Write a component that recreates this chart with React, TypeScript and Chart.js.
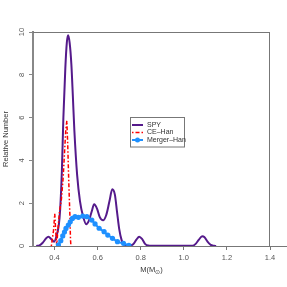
import React, { useEffect, useRef } from "react";
import { Chart, registerables } from "chart.js";

Chart.register(...registerables);

const SPY_X = [0.315,0.33,0.345,0.36,0.372,0.385,0.398,0.41,0.42,0.426,0.434,0.441,0.45,0.457,0.463,0.47,0.478,0.485,0.492,0.505,0.518,0.532,0.547,0.56,0.572,0.584,0.597,0.61,0.625,0.64,0.655,0.668,0.68,0.69,0.70,0.712,0.725,0.745,0.765,0.78,0.793,0.806,0.82,0.835,0.85,0.95,1.04,1.055,1.07,1.085,1.095,1.11,1.125,1.14,1.15];
const SPY_Y = [0,0.03,0.15,0.35,0.43,0.32,0.2,0.5,1.0,1.7,3.5,6.0,8.3,9.5,9.85,9.5,8.5,7.0,5.4,3.3,2.1,1.4,1.02,1.2,1.6,1.95,1.75,1.35,1.2,1.45,2.1,2.65,2.4,1.6,0.8,0.25,0.05,0.02,0.08,0.3,0.43,0.33,0.1,0.02,0.01,0.01,0.01,0.1,0.3,0.45,0.42,0.2,0.05,0.01,0];

const CE_X = [0.385,0.395,0.401,0.406,0.41,0.416,0.423,0.432,0.44,0.447,0.452,0.457,0.461,0.466,0.471,0.474,0.476];
const CE_Y = [0,0.7,1.5,0.6,0.05,0.8,1.6,2.2,3.2,4.5,5.4,5.85,4.8,3.0,1.5,0.3,0];

const MERGER_X = [0.418,0.429,0.438,0.446,0.453,0.464,0.473,0.483,0.495,0.511,0.531,0.550,0.573,0.588,0.607,0.630,0.647,0.669,0.692,0.720,0.745];
const MERGER_Y = [0.05,0.25,0.47,0.65,0.82,0.98,1.13,1.29,1.37,1.34,1.40,1.37,1.21,1.03,0.83,0.67,0.51,0.36,0.20,0.12,0.03];

const X_TICKS = [0.4, 0.6, 0.8, 1.0, 1.2, 1.4];
const Y_TICKS = [0, 2, 4, 6, 8, 10];
const SERIES_NAMES = ["SPY", "CE\u2013Han", "Merger\u2013Han"];
const X_TITLE = "M(M";
const Y_TITLE = "Relative Number";

const PURPLE = "#551A8B";
const RED = "#FF0000";
const BLUE = "#1E90FF";
const FONT = "'Liberation Sans', Arial, sans-serif";
const RED_DASH = [1.5, 2, 4, 2];

const zip = (xs: number[], ys: number[]) => xs.map((x, i) => ({ x, y: ys[i] }));

const decorPlugin = {
  id: "decor",
  afterDraw(chart: any) {
    const { ctx, chartArea, scales } = chart;
    const { left, right, top, bottom } = chartArea;
    ctx.save();
    // box lines
    ctx.strokeStyle = "#777";
    ctx.lineWidth = 1;
    ctx.beginPath();
    ctx.moveTo(left, top + 0.5);
    ctx.lineTo(right, top + 0.5);
    ctx.moveTo(right - 0.5, top);
    ctx.lineTo(right - 0.5, bottom);
    ctx.moveTo(right, bottom + 0.5);
    ctx.lineTo(287, bottom + 0.5);
    ctx.stroke();

    // y tick labels (rotated)
    ctx.fillStyle = "#555";
    ctx.font = `7.5px ${FONT}`;
    ctx.textAlign = "center";
    ctx.textBaseline = "middle";
    for (const v of Y_TICKS) {
      const y = scales.y.getPixelForValue(v);
      ctx.save();
      ctx.translate(22, y);
      ctx.rotate(-Math.PI / 2);
      ctx.fillText(String(v), 0, 0);
      ctx.restore();
    }
    // y title
    ctx.fillStyle = "#333";
    ctx.save();
    ctx.translate(6, (top + bottom) / 2);
    ctx.rotate(-Math.PI / 2);
    ctx.font = `7.5px ${FONT}`;
    ctx.fillText(Y_TITLE, 0, 0);
    ctx.restore();

    // x title with subscript sun
    ctx.font = `7.5px ${FONT}`;
    const w1 = ctx.measureText(X_TITLE).width;
    ctx.font = `5.5px ${FONT}`;
    const w2 = ctx.measureText("\u2299").width;
    ctx.font = `7.5px ${FONT}`;
    const w3 = ctx.measureText(")").width;
    const cx = (left + right) / 2;
    let x0 = cx - (w1 + w2 + w3) / 2;
    ctx.textAlign = "left";
    ctx.fillText(X_TITLE, x0, 270);
    ctx.font = `5.5px ${FONT}`;
    ctx.fillText("\u2299", x0 + w1, 272);
    ctx.font = `7.5px ${FONT}`;
    ctx.fillText(")", x0 + w1 + w2, 270);

    // legend
    const lx = 130.5, ly = 117.5, lw = 54, lh = 29.5;
    ctx.fillStyle = "#fff";
    ctx.fillRect(lx, ly, lw, lh);
    ctx.strokeStyle = "#777";
    ctx.lineWidth = 1;
    ctx.strokeRect(lx, ly, lw, lh);
    const rows = [125, 132.5, 140];
    const colors = [PURPLE, RED, BLUE];
    rows.forEach((ry, i) => {
      ctx.strokeStyle = colors[i];
      ctx.lineWidth = i === 1 ? 1.5 : 2;
      ctx.setLineDash(i === 1 ? RED_DASH : []);
      ctx.beginPath();
      ctx.moveTo(132, ry);
      ctx.lineTo(143, ry);
      ctx.stroke();
      ctx.setLineDash([]);
      if (i === 2) {
        ctx.fillStyle = BLUE;
        ctx.beginPath();
        ctx.arc(137.5, ry, 2.5, 0, Math.PI * 2);
        ctx.fill();
      }
      ctx.fillStyle = "#333";
      ctx.font = `7px ${FONT}`;
      ctx.textAlign = "left";
      ctx.textBaseline = "middle";
      ctx.fillText(SERIES_NAMES[i], 147, ry);
    });
    ctx.restore();
  },
};

export default function App() {
  const ref = useRef<HTMLCanvasElement>(null);
  useEffect(() => {
    document.body.style.margin = "0";
    const chart = new Chart(ref.current as HTMLCanvasElement, {
      type: "line",
      data: {
        datasets: [
          {
            label: SERIES_NAMES[0],
            data: zip(SPY_X, SPY_Y),
            borderColor: PURPLE,
            borderWidth: 2,
            pointRadius: 0,
            cubicInterpolationMode: "monotone",
            order: 2,
          },
          {
            label: SERIES_NAMES[1],
            data: zip(CE_X, CE_Y),
            borderColor: RED,
            borderWidth: 1.5,
            borderDash: RED_DASH,
            pointRadius: 0,
            tension: 0,
            order: 1,
          },
          {
            label: SERIES_NAMES[2],
            data: zip(MERGER_X, MERGER_Y),
            borderColor: BLUE,
            backgroundColor: BLUE,
            pointBackgroundColor: BLUE,
            pointBorderWidth: 0,
            borderWidth: 2,
            pointRadius: 2.6,
            cubicInterpolationMode: "monotone",
            order: 0,
          },
        ],
      },
      options: {
        responsive: false,
        animation: false,
        devicePixelRatio: 1,
        layout: { padding: { left: 0, right: 17, top: 32, bottom: 0 } },
        plugins: { legend: { display: false }, tooltip: { enabled: false } },
        scales: {
          x: {
            type: "linear",
            min: 0.3,
            max: 1.4,
            afterBuildTicks: (s: any) => {
              s.ticks = X_TICKS.map((v) => ({ value: v }));
            },
            afterFit: (s: any) => {
              s.height = 41;
            },
            ticks: {
              callback: (v: any) => Number(v).toFixed(1),
              font: { size: 7.5, family: FONT },
              color: "#555",
              padding: 3,
              maxRotation: 0,
              autoSkip: false,
            },
            grid: { drawOnChartArea: false, drawTicks: true, tickLength: 4, color: "#777" },
            border: { display: true, color: "#777", width: 1 },
          },
          y: {
            type: "linear",
            min: 0,
            max: 10,
            afterBuildTicks: (s: any) => {
              s.ticks = Y_TICKS.map((v) => ({ value: v }));
            },
            afterFit: (s: any) => {
              s.width = 33;
            },
            ticks: { display: false },
            grid: { drawOnChartArea: false, drawTicks: true, tickLength: 4, color: "#888" },
            border: { display: true, color: "#888", width: 2 },
          },
        },
      },
      plugins: [decorPlugin],
    } as any);
    return () => chart.destroy();
  }, []);
  return (
    <div style={{ position: "absolute", left: 0, top: 0, width: 287, height: 287, background: "#fff" }}>
      <canvas ref={ref} width={287} height={287} style={{ display: "block", width: 287, height: 287 }} />
    </div>
  );
}
